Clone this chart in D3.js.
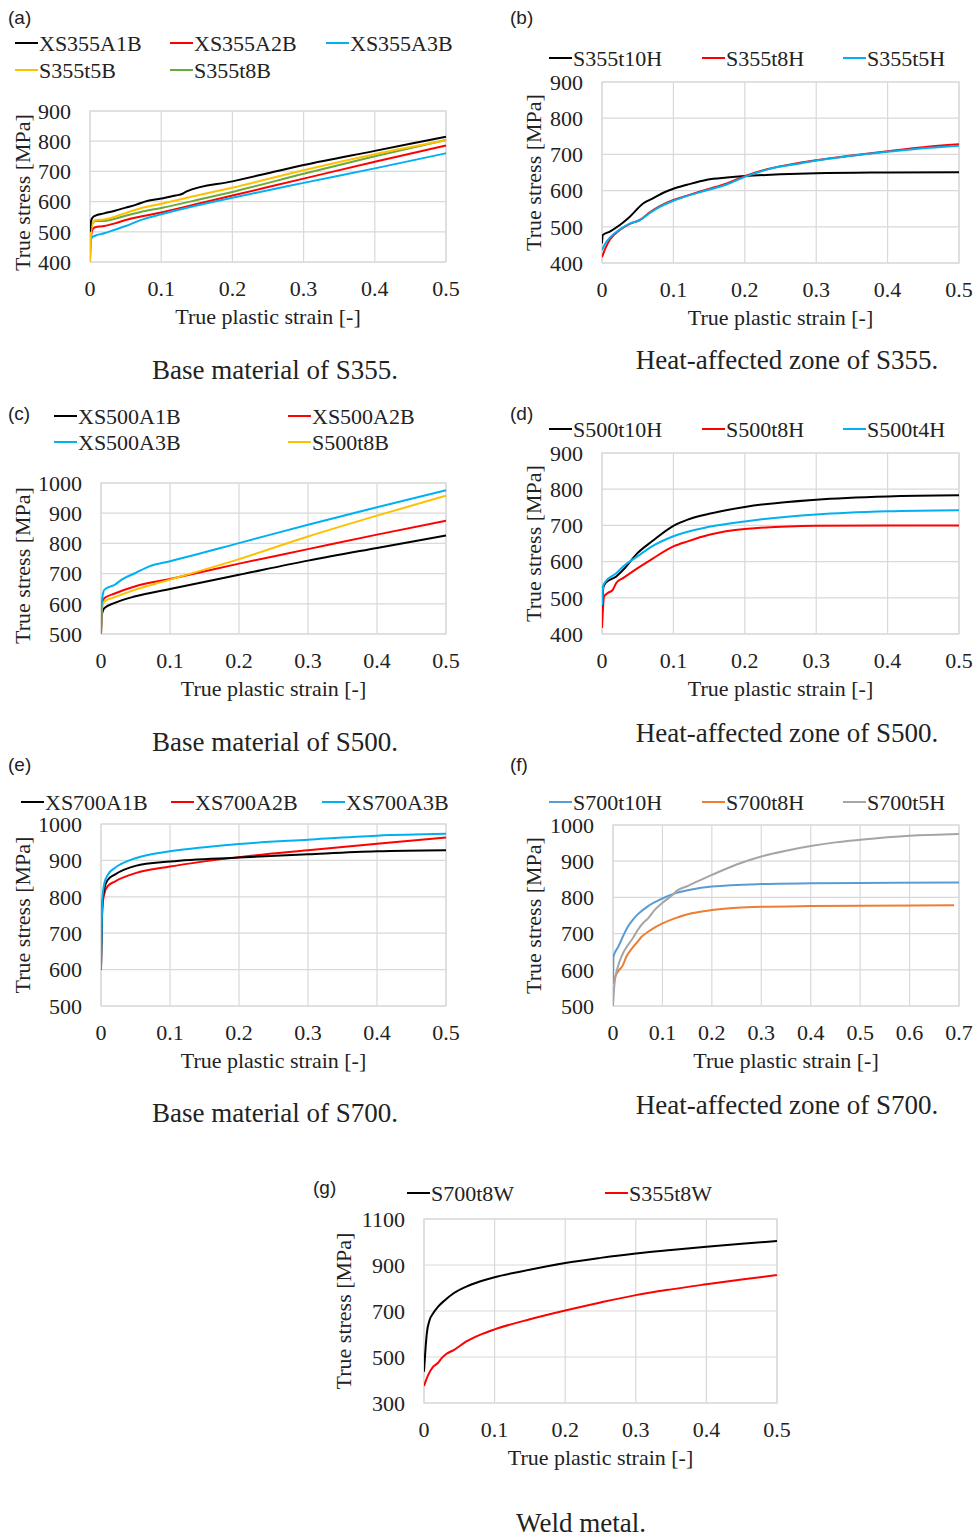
<!DOCTYPE html>
<html><head><meta charset="utf-8">
<script src="https://cdn.jsdelivr.net/npm/d3@7/dist/d3.min.js"></script>
<style>
html,body{margin:0;padding:0;background:#fff;}
svg{display:block;}
.serif{font-family:"Liberation Serif","Times New Roman",serif;fill:#222;}
.sans{font-family:"Liberation Sans",Arial,sans-serif;fill:#222;}
</style></head>
<body><svg id="fig" width="975" height="1540"></svg>
<script>
// ---------- tick values ----------
const xTicks05 = [0, 0.1, 0.2, 0.3, 0.4, 0.5];
const xTicks07 = [0, 0.1, 0.2, 0.3, 0.4, 0.5, 0.6, 0.7];
const yTicks400_900 = [400, 500, 600, 700, 800, 900];
const yTicks500_1000 = [500, 600, 700, 800, 900, 1000];
const yTicks300_1100 = [300, 500, 700, 900, 1100];

// ---------- (a) Base material of S355 : [strain, stress] ----------
const XS355A1B = [[0,500],[0.001,530],[0.003,545],[0.007,553],[0.02,561],[0.035,570],[0.05,580],[0.065,590],[0.077,600],[0.1,610],[0.12,620],[0.13,626],[0.135,633],[0.2,667],[0.25,694],[0.3,721],[0.4,768],[0.5,815]];
const XS355A2B = [[0,400],[0.001,470],[0.003,505],[0.007,515],[0.02,519],[0.035,528],[0.05,539],[0.07,550],[0.1,564],[0.15,592],[0.2,620],[0.3,676],[0.4,732],[0.5,786]];
const XS355A3B = [[0,450],[0.001,470],[0.003,482],[0.007,487],[0.02,495],[0.035,507],[0.05,519],[0.07,538],[0.1,558],[0.15,587],[0.2,613],[0.3,662],[0.4,710],[0.5,760]];
const S355t5B = [[0,400],[0.001,480],[0.003,525],[0.007,538],[0.02,541],[0.035,550],[0.05,562],[0.07,577],[0.1,593],[0.15,620],[0.2,646],[0.3,704],[0.4,757],[0.5,803]];
const S355t8B = [[0,440],[0.001,500],[0.003,525],[0.007,536],[0.02,536],[0.035,543],[0.05,553],[0.07,565],[0.1,579],[0.15,605],[0.2,632],[0.3,692],[0.4,750],[0.5,804]];

// ---------- (b) HAZ of S355 ----------
const S355t10H = [[0,454],[0.001,477],[0.011,487],[0.025,505],[0.039,528],[0.058,565],[0.072,579],[0.086,594],[0.1,605],[0.119,616],[0.147,630],[0.175,636],[0.2,640],[0.25,645],[0.3,648],[0.4,650],[0.5,651]];
const S355t8H = [[0,416],[0.005,442],[0.011,464],[0.025,491],[0.039,508],[0.053,519],[0.067,540],[0.081,557],[0.1,574],[0.119,586],[0.147,603],[0.175,620],[0.2,640],[0.231,659],[0.277,677],[0.3,684],[0.35,697],[0.4,709],[0.45,720],[0.5,728]];
const S355t5H = [[0,436],[0.005,455],[0.011,470],[0.025,493],[0.039,509],[0.053,518],[0.067,538],[0.081,555],[0.1,572],[0.119,585],[0.147,601],[0.175,617],[0.2,638],[0.231,658],[0.277,675],[0.3,683],[0.35,696],[0.4,707],[0.45,717],[0.5,724]];

// ---------- (c) Base material of S500 ----------
const XS500A1B = [[0,500],[0.001,560],[0.003,578],[0.005,586],[0.02,603],[0.05,625],[0.1,649],[0.2,696],[0.3,743],[0.4,785],[0.5,826]];
const XS500A2B = [[0,500],[0.001,580],[0.003,610],[0.005,619],[0.02,634],[0.05,658],[0.1,682],[0.2,733],[0.3,781],[0.4,829],[0.5,875]];
const XS500A3B = [[0,500],[0.001,600],[0.003,635],[0.005,647],[0.02,663],[0.03,680],[0.05,702],[0.07,724],[0.1,741],[0.2,801],[0.3,862],[0.4,920],[0.5,976]];
const S500t8B = [[0,500],[0.001,575],[0.003,600],[0.005,608],[0.02,622],[0.05,647],[0.1,680],[0.2,748],[0.3,823],[0.4,892],[0.5,958]];

// ---------- (d) HAZ of S500 ----------
const S500t10H = [[0,470],[0.002,530],[0.005,541],[0.02,559],[0.03,578],[0.05,624],[0.07,656],[0.1,699],[0.12,716],[0.15,732],[0.2,751],[0.3,771],[0.4,780],[0.5,783]];
const S500t8H = [[0,417],[0.003,504],[0.008,513],[0.015,522],[0.02,541],[0.03,555],[0.05,582],[0.07,607],[0.1,642],[0.12,656],[0.15,674],[0.2,690],[0.3,699],[0.4,700],[0.5,700]];
const S500t4H = [[0,480],[0.002,535],[0.005,545],[0.02,568],[0.03,587],[0.05,615],[0.07,642],[0.1,670],[0.15,696],[0.2,711],[0.3,730],[0.4,739],[0.5,742]];

// ---------- (e) Base material of S700 ----------
const XS700A1B = [[0,600],[0.002,780],[0.005,824],[0.01,847],[0.02,861],[0.05,885],[0.1,897],[0.2,908],[0.3,917],[0.4,925],[0.5,928]];
const XS700A2B = [[0,600],[0.002,770],[0.005,810],[0.01,830],[0.02,842],[0.05,865],[0.1,883],[0.2,909],[0.3,928],[0.4,946],[0.5,963]];
const XS700A3B = [[0,600],[0.002,792],[0.005,838],[0.01,861],[0.02,879],[0.05,906],[0.1,925],[0.15,936],[0.2,945],[0.3,957],[0.4,968],[0.5,973]];

// ---------- (f) HAZ of S700 ----------
const S700t10H = [[0,562],[0.001,636],[0.003,645],[0.01,662],[0.02,692],[0.03,719],[0.04,738],[0.05,753],[0.071,776],[0.1,797],[0.125,811],[0.159,822],[0.2,830],[0.3,837],[0.4,839],[0.5,840],[0.7,841]];
const S700t8H = [[0,563],[0.003,576],[0.01,595],[0.02,613],[0.027,636],[0.04,662],[0.05,678],[0.057,690],[0.071,705],[0.1,728],[0.125,742],[0.159,756],[0.2,765],[0.3,774],[0.4,776],[0.5,777],[0.69,778]];
const S700t5H = [[0,500],[0.003,562],[0.01,609],[0.02,645],[0.03,668],[0.04,687],[0.05,710],[0.06,728],[0.071,742],[0.084,765],[0.1,785],[0.118,804],[0.131,820],[0.152,832],[0.172,845],[0.2,862],[0.25,891],[0.3,913],[0.35,929],[0.4,942],[0.45,952],[0.5,959],[0.6,970],[0.7,975]];

// ---------- (g) Weld metal ----------
const S700t8W = [[0,436],[0.002,530],[0.004,603],[0.008,661],[0.013,690],[0.02,719],[0.03,748],[0.042,777],[0.06,806],[0.079,828],[0.1,847],[0.136,871],[0.2,909],[0.25,931],[0.3,950],[0.35,965],[0.4,979],[0.45,992],[0.5,1004]];
const S355t8W = [[0,374],[0.006,422],[0.013,458],[0.02,475],[0.025,495],[0.032,514],[0.042,530],[0.06,568],[0.079,596],[0.1,620],[0.15,664],[0.2,702],[0.25,737],[0.3,769],[0.35,794],[0.4,816],[0.45,837],[0.5,856]];

// ---------- colours ----------
const C = {black:"#000000", red:"#ff0000", cyan:"#00b0f0", yellow:"#ffc000", green:"#6aaa3a",
           blue:"#5b9bd5", orange:"#ed7d31", gray:"#a5a5a5"};

const svg = d3.select("#fig");
const fmtX = v => v === 0 ? "0" : d3.format(".1f")(v);

function panel(cfg){
  const g = svg.append("g");
  const x = d3.scaleLinear().domain(cfg.xd).range([cfg.L, cfg.R]);
  const y = d3.scaleLinear().domain(cfg.yd).range([cfg.B, cfg.T]);
  // grid
  g.selectAll(".hg").data(cfg.yt).join("line")
    .attr("x1", cfg.L).attr("x2", cfg.R).attr("y1", d=>y(d)).attr("y2", d=>y(d))
    .attr("stroke", "#d9d9d9").attr("stroke-width", 1.2);
  g.selectAll(".vg").data(cfg.xt).join("line")
    .attr("y1", cfg.T).attr("y2", cfg.B).attr("x1", d=>x(d)).attr("x2", d=>x(d))
    .attr("stroke", "#d9d9d9").attr("stroke-width", 1.2);
  g.append("rect").attr("x", cfg.L).attr("y", cfg.T).attr("width", cfg.R-cfg.L).attr("height", cfg.B-cfg.T)
    .attr("fill","none").attr("stroke","#d9d9d9").attr("stroke-width",1.2);
  // tick labels
  g.selectAll(".yl").data(cfg.yt).join("text").attr("class","serif")
    .attr("x", cfg.L-19).attr("y", d=>y(d)).attr("dy","0.35em")
    .attr("text-anchor","end").attr("font-size",22).text(d=>d);
  g.selectAll(".xl").data(cfg.xt).join("text").attr("class","serif")
    .attr("x", d=>x(d)).attr("y", cfg.B+34)
    .attr("text-anchor","middle").attr("font-size",22).text(fmtX);
  // axis titles
  g.append("text").attr("class","serif").attr("font-size",22).attr("text-anchor","middle")
    .attr("x",(cfg.L+cfg.R)/2).attr("y",cfg.B+62).text("True plastic strain [-]");
  const yc = (cfg.T+cfg.B)/2 + (cfg.ytOff||0);
  g.append("text").attr("class","serif").attr("font-size",22).attr("text-anchor","middle")
    .attr("transform",`translate(${cfg.ytx},${yc}) rotate(-90)`).attr("dy","0.35em")
    .text("True stress [MPa]");
  // curves
  const clipId = "clip"+cfg.id;
  svg.append("clipPath").attr("id",clipId).append("rect")
    .attr("x",cfg.L).attr("y",cfg.T-2).attr("width",cfg.R-cfg.L+2).attr("height",cfg.B-cfg.T+3);
  const line = d3.line().x(d=>x(d[0])).y(d=>y(d[1])).curve(d3.curveMonotoneX);
  const lg = g.append("g").attr("clip-path",`url(#${clipId})`);
  cfg.series.forEach(s=>{
    lg.append("path").attr("d", line(s.data)).attr("fill","none")
      .attr("stroke", s.color).attr("stroke-width", 2).attr("stroke-linejoin","round");
  });
  // legend
  cfg.series.forEach(s=>{
    g.append("line").attr("x1",s.lx).attr("x2",s.lx+23).attr("y1",s.ly).attr("y2",s.ly)
      .attr("stroke",s.color).attr("stroke-width",2);
    g.append("text").attr("class","serif").attr("font-size",22)
      .attr("x",s.lx+24).attr("y",s.ly).attr("dy","0.35em").text(s.name);
  });
  // letter + caption
  g.append("text").attr("class","sans").attr("font-size",19)
    .attr("x",cfg.letter[0]).attr("y",cfg.letter[1]).text(cfg.letterText);
  g.append("text").attr("class","serif").attr("font-size",27).attr("text-anchor","middle")
    .attr("x",cfg.cap[0]).attr("y",cfg.cap[1]).text(cfg.capText);
}

panel({id:"a", L:90, R:446, T:111, B:262, xd:[0,0.5], yd:[400,900], xt:xTicks05, yt:yTicks400_900,
  ytx:22, ytOff:6, letter:[8,24], letterText:"(a)", cap:[275,379], capText:"Base material of S355.",
  series:[
    {name:"XS355A2B", data:XS355A2B, color:C.red, lx:170, ly:43},
    {name:"XS355A3B", data:XS355A3B, color:C.cyan, lx:326, ly:43},
    {name:"S355t8B", data:S355t8B, color:C.green, lx:170, ly:70},
    {name:"S355t5B", data:S355t5B, color:C.yellow, lx:15, ly:70},
    {name:"XS355A1B", data:XS355A1B, color:C.black, lx:15, ly:43}
  ]});

panel({id:"b", L:602, R:959, T:82, B:263, xd:[0,0.5], yd:[400,900], xt:xTicks05, yt:yTicks400_900,
  ytx:533, ytOff:0, letter:[510,24], letterText:"(b)", cap:[787,369], capText:"Heat-affected zone of S355.",
  series:[
    {name:"S355t10H", data:S355t10H, color:C.black, lx:549, ly:58},
    {name:"S355t8H", data:S355t8H, color:C.red, lx:702, ly:58},
    {name:"S355t5H", data:S355t5H, color:C.cyan, lx:843, ly:58}
  ]});

panel({id:"c", L:101, R:446, T:483, B:634, xd:[0,0.5], yd:[500,1000], xt:xTicks05, yt:yTicks500_1000,
  ytx:22, ytOff:7, letter:[8,420], letterText:"(c)", cap:[275,751], capText:"Base material of S500.",
  series:[
    {name:"XS500A1B", data:XS500A1B, color:C.black, lx:54, ly:416},
    {name:"XS500A2B", data:XS500A2B, color:C.red, lx:288, ly:416},
    {name:"S500t8B", data:S500t8B, color:C.yellow, lx:288, ly:442},
    {name:"XS500A3B", data:XS500A3B, color:C.cyan, lx:54, ly:442}
  ]});

panel({id:"d", L:602, R:959, T:453, B:634, xd:[0,0.5], yd:[400,900], xt:xTicks05, yt:yTicks400_900,
  ytx:533, ytOff:0, letter:[510,420], letterText:"(d)", cap:[787,742], capText:"Heat-affected zone of S500.",
  series:[
    {name:"S500t10H", data:S500t10H, color:C.black, lx:549, ly:429},
    {name:"S500t8H", data:S500t8H, color:C.red, lx:702, ly:429},
    {name:"S500t4H", data:S500t4H, color:C.cyan, lx:843, ly:429}
  ]});

panel({id:"e", L:101, R:446, T:824, B:1006, xd:[0,0.5], yd:[500,1000], xt:xTicks05, yt:yTicks500_1000,
  ytx:22, ytOff:0, letter:[8,771], letterText:"(e)", cap:[275,1122], capText:"Base material of S700.",
  series:[
    {name:"XS700A2B", data:XS700A2B, color:C.red, lx:171, ly:802},
    {name:"XS700A1B", data:XS700A1B, color:C.black, lx:21, ly:802},
    {name:"XS700A3B", data:XS700A3B, color:C.cyan, lx:322, ly:802}
  ]});

panel({id:"f", L:613, R:959, T:825, B:1006, xd:[0,0.7], yd:[500,1000], xt:xTicks07, yt:yTicks500_1000,
  ytx:533, ytOff:0, letter:[510,771], letterText:"(f)", cap:[787,1114], capText:"Heat-affected zone of S700.",
  series:[
    {name:"S700t10H", data:S700t10H, color:C.blue, lx:549, ly:802},
    {name:"S700t8H", data:S700t8H, color:C.orange, lx:702, ly:802},
    {name:"S700t5H", data:S700t5H, color:C.gray, lx:843, ly:802}
  ]});

panel({id:"g", L:424, R:777, T:1219, B:1403, xd:[0,0.5], yd:[300,1100], xt:xTicks05, yt:yTicks300_1100,
  ytx:343, ytOff:0, letter:[313,1194], letterText:"(g)", cap:[581,1532], capText:"Weld metal.",
  series:[
    {name:"S700t8W", data:S700t8W, color:C.black, lx:407, ly:1193},
    {name:"S355t8W", data:S355t8W, color:C.red, lx:605, ly:1193}
  ]});
</script>
</body></html>
